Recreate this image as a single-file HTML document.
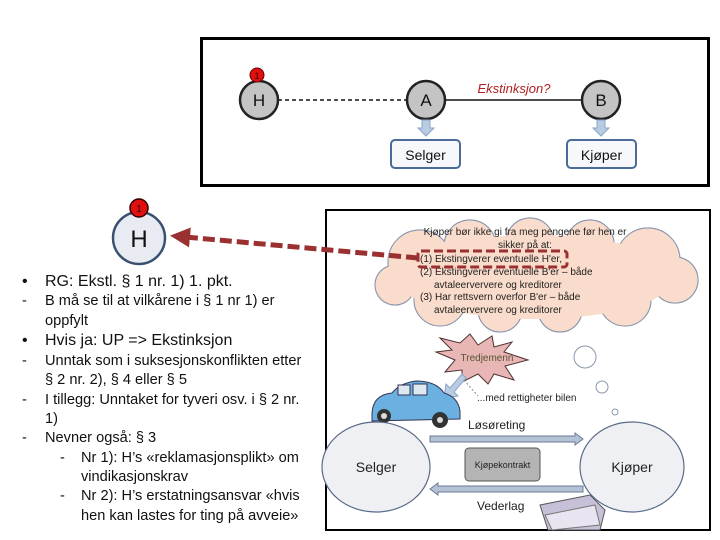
<!DOCTYPE html>
<html><head><meta charset="utf-8"><style>
html,body{margin:0;padding:0;background:#fff;}
body{width:720px;height:540px;overflow:hidden;position:relative;font-family:"Liberation Sans",sans-serif;}
.l{position:absolute;font-size:14.6px;color:#111;white-space:nowrap;line-height:16px;}
.b{font-size:16px;}
</style></head><body>
<svg width="720" height="540" style="position:absolute;left:0;top:0" font-family="Liberation Sans, sans-serif">
<defs>
<marker id="ah" markerWidth="4" markerHeight="4" refX="1" refY="2" orient="auto"><path d="M0,0 L4,2 L0,4 z" fill="#9b3030"/></marker>
</defs>
<rect x="201.5" y="38.5" width="507" height="147" fill="#fff" stroke="#000" stroke-width="3"/>
<line x1="278" y1="100" x2="407" y2="100" stroke="#111" stroke-width="1.5" stroke-dasharray="4,3"/>
<line x1="445" y1="100" x2="582" y2="100" stroke="#111" stroke-width="1.5"/>
<circle cx="259" cy="100" r="19" fill="#c4c4c4" stroke="#222" stroke-width="2.5"/>
<circle cx="257" cy="75" r="7" fill="#e01010" stroke="#600" stroke-width="1"/>
<text x="257" y="79" font-size="9" text-anchor="middle" fill="#300">1</text>
<text x="259" y="106" font-size="17" text-anchor="middle" fill="#111">H</text>
<circle cx="426" cy="100" r="19" fill="#c4c4c4" stroke="#222" stroke-width="2.5"/>
<text x="426" y="106" font-size="17" text-anchor="middle" fill="#111">A</text>
<circle cx="601" cy="100" r="19" fill="#c4c4c4" stroke="#222" stroke-width="2.5"/>
<text x="601" y="106" font-size="17" text-anchor="middle" fill="#111">B</text>
<text x="514" y="93" font-size="13" font-style="italic" text-anchor="middle" fill="#b02020">Ekstinksjon?</text>
<path d="M422,120 h8 v8 h4 l-8,8 l-8,-8 h4z" fill="#b8cce4" stroke="#8aa4c8"/>
<path d="M597,120 h8 v8 h4 l-8,8 l-8,-8 h4z" fill="#b8cce4" stroke="#8aa4c8"/>
<rect x="391" y="140" width="69" height="28" rx="4" fill="#f6f8fb" stroke="#4a6a9a" stroke-width="2"/>
<text x="425.5" y="160" font-size="14" text-anchor="middle" fill="#111">Selger</text>
<rect x="567" y="140" width="69" height="28" rx="4" fill="#f6f8fb" stroke="#4a6a9a" stroke-width="2"/>
<text x="601.5" y="160" font-size="14" text-anchor="middle" fill="#111">Kjøper</text>

<circle cx="139" cy="238" r="26" fill="#e8ecf2" stroke="#3a5070" stroke-width="2.5"/>
<circle cx="139" cy="208" r="9" fill="#e01010" stroke="#300" stroke-width="1.5"/>
<text x="139" y="212" font-size="10" text-anchor="middle" fill="#300">1</text>
<text x="139" y="247" font-size="24" text-anchor="middle" fill="#111">H</text>

<rect x="326" y="210" width="384" height="320" fill="#fff" stroke="#000" stroke-width="2"/>
<g fill="#f9dccb" stroke="#8a96ae" stroke-width="1.2">
<circle cx="420" cy="262" r="32"/><circle cx="470" cy="246" r="26"/><circle cx="530" cy="242" r="24"/><circle cx="590" cy="244" r="24"/><circle cx="648" cy="260" r="32"/>
<circle cx="440" cy="300" r="26"/><circle cx="500" cy="310" r="22"/><circle cx="560" cy="310" r="22"/><circle cx="625" cy="300" r="26"/><circle cx="675" cy="280" r="23"/><circle cx="395" cy="285" r="20"/>
</g>
<g fill="#f9dccb" stroke="none">
<circle cx="420" cy="262" r="31.4"/><circle cx="470" cy="246" r="25.4"/><circle cx="530" cy="242" r="23.4"/><circle cx="590" cy="244" r="23.4"/><circle cx="648" cy="260" r="31.4"/>
<circle cx="440" cy="300" r="25.4"/><circle cx="500" cy="310" r="21.4"/><circle cx="560" cy="310" r="21.4"/><circle cx="625" cy="300" r="25.4"/><circle cx="675" cy="280" r="22.4"/><circle cx="395" cy="285" r="19.4"/>
<ellipse cx="535" cy="277" rx="140" ry="42"/>
</g>
<g font-size="10" fill="#222">
<text x="525" y="235" text-anchor="middle">Kjøper bør ikke gi fra meg pengene før hen er</text>
<text x="525" y="248" text-anchor="middle">sikker på at:</text>
<text x="420" y="262">(1)  Ekstingverer eventuelle H'er,</text>
<text x="420" y="275">(2)  Ekstingverer eventuelle B'er – både</text>
<text x="434" y="288">avtaleerververe og kreditorer</text>
<text x="420" y="300">(3)  Har rettsvern overfor B'er – både</text>
<text x="434" y="313">avtaleerververe og kreditorer</text>
</g>
<rect x="418" y="251" width="149" height="16" rx="3" fill="none" stroke="#9b3030" stroke-width="3" stroke-dasharray="9,4"/>
<line x1="418" y1="258" x2="185" y2="237" stroke="#9b3030" stroke-width="5" stroke-dasharray="12,5" marker-end="url(#ah)"/>
<circle cx="585" cy="357" r="11" fill="#fff" stroke="#8a96ae"/>
<circle cx="602" cy="387" r="6" fill="#fff" stroke="#8a96ae"/>
<circle cx="615" cy="412" r="3" fill="#fff" stroke="#8a96ae"/>
<polygon points="440,338 460,343 470,334 478,345 492,336 494,347 512,342 504,352 528,360 505,366 514,380 494,374 488,384 478,374 462,382 462,370 445,372 455,360 436,352 452,350" fill="#e8b6b4" stroke="#503030"/>
<text x="487" y="361" font-size="10" text-anchor="middle" fill="#553">Tredjemenn</text>
<path d="M462,374 l-12,14 l-4,-4 l-2,14 l14,-2 l-4,-4 l12,-14z" fill="#b8cce4" stroke="#8aa4c8"/>
<line x1="464" y1="380" x2="478" y2="396" stroke="#888" stroke-dasharray="2,2"/>
<text x="477" y="401" font-size="10" fill="#222">...med rettigheter  bilen</text>
<path d="M372,415 q0,-20 20,-22 q8,-10 24,-12 q20,0 28,12 q14,4 16,18 l0,8 l-88,2z" fill="#6ab0e0" stroke="#335"/>
<rect x="398" y="385" width="12" height="10" fill="#dde8f0" stroke="#335"/>
<rect x="413" y="384" width="14" height="11" fill="#dde8f0" stroke="#335"/>
<circle cx="384" cy="416" r="7" fill="#333"/><circle cx="384" cy="416" r="3" fill="#ddd"/>
<circle cx="440" cy="420" r="8" fill="#333"/><circle cx="440" cy="420" r="3" fill="#ddd"/>
<text x="468" y="429" font-size="12" fill="#222">Løsøreting</text>
<path d="M430,436 h145 v-3 l8,6 l-8,6 v-3 h-145z" fill="#b4c2d6" stroke="#6a7a94"/>
<path d="M583,486 h-145 v-3 l-8,6 l8,6 v-3 h145z" fill="#b4c2d6" stroke="#6a7a94"/>
<ellipse cx="376" cy="467" rx="54" ry="45" fill="#eef0f4" stroke="#5a6a88" stroke-width="1.2"/>
<text x="376" y="472" font-size="14" text-anchor="middle" fill="#222">Selger</text>
<ellipse cx="632" cy="467" rx="52" ry="45" fill="#eef0f4" stroke="#5a6a88" stroke-width="1.2"/>
<text x="632" y="472" font-size="14" text-anchor="middle" fill="#222">Kjøper</text>
<rect x="465" y="448" width="75" height="33" rx="4" fill="#b4b4b4" stroke="#555"/>
<text x="502.5" y="468" font-size="9" text-anchor="middle" fill="#222">Kjøpekontrakt</text>
<text x="477" y="510" font-size="12" fill="#222">Vederlag</text>
<polygon points="540,505 590,495 605,510 600,530 548,530" fill="#c8c0d8" stroke="#555"/>
<polygon points="545,515 595,505 600,525 552,530" fill="#e8e4f0" stroke="#777"/>
</svg>
<div class="l b" style="left:22px;top:274px">•</div><div class="l b" style="left:45px;top:274px">RG: Ekstl. § 1 nr. 1) 1. pkt.</div>
<div class="l" style="left:22px;top:293px">-</div><div class="l" style="left:45px;top:293px">B må se til at vilkårene i § 1 nr 1) er</div>
<div class="l" style="left:45px;top:313px">oppfylt</div>
<div class="l b" style="left:22px;top:333px">•</div><div class="l b" style="left:45px;top:333px">Hvis ja: UP =&gt; Ekstinksjon</div>
<div class="l" style="left:22px;top:353px">-</div><div class="l" style="left:45px;top:353px">Unntak som i suksesjonskonflikten etter</div>
<div class="l" style="left:45px;top:372px">§ 2 nr. 2), § 4 eller § 5</div>
<div class="l" style="left:22px;top:392px">-</div><div class="l" style="left:45px;top:392px">I tillegg: Unntaket for tyveri osv. i § 2 nr.</div>
<div class="l" style="left:45px;top:411px">1)</div>
<div class="l" style="left:22px;top:430px">-</div><div class="l" style="left:45px;top:430px">Nevner også: § 3</div>
<div class="l" style="left:60px;top:450px">-</div><div class="l" style="left:81px;top:450px">Nr 1): H’s «reklamasjonsplikt» om</div>
<div class="l" style="left:81px;top:469px">vindikasjonskrav</div>
<div class="l" style="left:60px;top:488px">-</div><div class="l" style="left:81px;top:488px">Nr 2): H’s erstatningsansvar «hvis</div>
<div class="l" style="left:81px;top:508px">hen kan lastes for ting på avveie»</div>
</body></html>
